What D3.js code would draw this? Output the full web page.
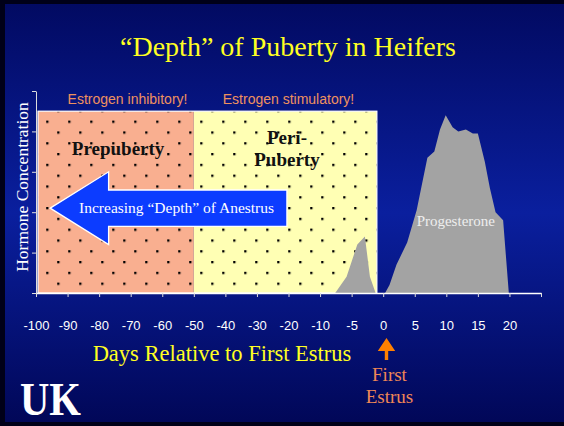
<!DOCTYPE html>
<html>
<head>
<meta charset="utf-8">
<script src="https://cdn.jsdelivr.net/npm/d3@7"></script>
<style>
  body { margin: 0; background: #000; }
  svg { display: block; }
</style>
</head>
<body>
<div id="chart"></div>
<script>
// tick positions on the day axis (evenly spaced, not linear in days)
const dayTicks = [-100, -90, -80, -70, -60, -50, -40, -30, -20, -10, -5, 0, 5, 10, 15, 20, 25]
const hormoneTicks = [0, 20, 40, 60, 80, 100]

// phases of puberty
const phaseNames = ['Prepuberty', 'Peri-|Puberty']
const phaseStart = [-100, -50]
const phaseEnd = [-50, -1]
const phaseTop = 90
const phaseLabelDay = [-74, -20.5]
const estrogenLabels = ['Estrogen inhibitory!', 'Estrogen stimulatory!']
const estrogenLabelDay = [-71, -20]

// estrus (estrogen) peak before first estrus
const peakDays = [-7.6, -5.8, -4.1, -2.9, -2.1, -1.2]
const peakValues = [0, 8, 24, 28, 8, 0]

// progesterone after first estrus
const progDays = [0.3, 1, 2.1, 3.8, 5.3, 7, 8.1, 9, 9.9, 11, 11.9, 13.1, 14.2, 15, 16.1, 16.9, 17.8, 19, 19.9]
const progValues = [0, 4, 14, 25, 41, 67, 70, 81, 88, 82, 80, 81, 79, 79, 65, 52, 40, 36, 0]

// arrow "Increasing depth of anestrus" (days / hormone units)
const arrowDays = [-95.5, -77, -20.5]        // tip, head base, tail
const arrowLevels = [42, 51, 33, 60, 24]      // center, shaft top, shaft bottom, head top, head bottom

let width = 564
let height = 426

let svg = d3.select('#chart')
  .append('svg')
  .attr('width', width)
  .attr('height', height)

let defs = svg.append('defs')
let grad = defs.append('linearGradient')
  .attr('id', 'bg')
  .attr('x1', 0).attr('y1', 0).attr('x2', 0).attr('y2', 1)
grad.append('stop').attr('offset', '0%').attr('stop-color', '#020a62')
grad.append('stop').attr('offset', '50%').attr('stop-color', '#0a1f9e')
grad.append('stop').attr('offset', '100%').attr('stop-color', '#010758')

let pat = defs.append('pattern')
  .attr('id', 'dots')
  .attr('patternUnits', 'userSpaceOnUse')
  .attr('x', 46.2).attr('y', 120.6)
  .attr('width', 22).attr('height', 21.6)
pat.append('rect').attr('x', 0).attr('y', 0).attr('width', 2.3).attr('height', 2.3).attr('fill', '#000')
pat.append('rect').attr('x', 11).attr('y', 10.8).attr('width', 2.3).attr('height', 2.3).attr('fill', '#000')

// slide background
svg.append('rect').attr('width', width).attr('height', height).attr('fill', '#000018')
svg.append('rect')
  .attr('x', 5).attr('y', 4)
  .attr('width', width - 5).attr('height', 418)
  .attr('fill', 'url(#bg)')

// scales
let xTick = d3.scalePoint().domain(dayTicks).range([36, 541])
let x = d3.scaleLinear().domain(dayTicks).range(dayTicks.map(d => xTick(d)))
let y = d3.scaleLinear().domain([0, 100]).range([293, 91])

// phase rectangles
let phaseFill = ['#f9af90', '#ffffb4']
let phases = svg.append('g')
phaseNames.forEach((name, i) => {
  let x0 = x(phaseStart[i]) + (i === 0 ? 2 : 0)
  let x1 = x(phaseEnd[i])
  phases.append('rect')
    .attr('x', x0).attr('y', y(phaseTop))
    .attr('width', x1 - x0).attr('height', y(0) - y(phaseTop))
    .attr('fill', phaseFill[i])
  phases.append('rect')
    .attr('x', x0).attr('y', y(phaseTop))
    .attr('width', x1 - x0).attr('height', y(0) - y(phaseTop))
    .attr('fill', 'url(#dots)')
})
// white frame around both
phases.append('rect')
  .attr('x', x(phaseStart[0]) + 2).attr('y', y(phaseTop))
  .attr('width', x(phaseEnd[1]) - x(phaseStart[0]) - 2)
  .attr('height', y(0) - y(phaseTop))
  .attr('fill', 'none')
  .attr('stroke', '#fff')
  .attr('stroke-width', 1.2)

// hormone curves
let area = d3.area()
  .x(d => x(d[0]))
  .y0(y(0))
  .y1(d => y(d[1]))

svg.append('path')
  .datum(d3.zip(peakDays, peakValues))
  .attr('d', area)
  .attr('fill', '#a3a3a3')

svg.append('path')
  .datum(d3.zip(progDays, progValues))
  .attr('d', area)
  .attr('fill', '#a3a3a3')

// phase labels
phaseNames.forEach((name, i) => {
  let lines = name.split('|')
  let t = svg.append('text')
    .attr('x', x(phaseLabelDay[i]))
    .attr('y', i === 0 ? 155 : 144)
    .attr('text-anchor', 'middle')
    .style('font-family', 'Liberation Serif, serif')
    .style('font-weight', 'bold')
    .style('font-size', '19px')
    .attr('fill', '#111')
  lines.forEach((l, j) => {
    t.append('tspan').attr('x', x(phaseLabelDay[i])).attr('dy', j === 0 ? 0 : 22).text(l)
  })
})

estrogenLabels.forEach((label, i) => {
  svg.append('text')
    .attr('x', x(estrogenLabelDay[i]))
    .attr('y', 104)
    .attr('text-anchor', 'middle')
    .style('font-family', 'Liberation Sans, Arial, sans-serif')
    .style('font-size', '14px')
    .attr('fill', '#ee915f')
    .text(label)
})

// big blue arrow
let ax = arrowDays.map(d => x(d))
let ay = arrowLevels.map(d => y(d))
let arrowPts = [
  [ax[0], ay[0]], [ax[1], ay[3]], [ax[1], ay[1]], [ax[2], ay[1]],
  [ax[2], ay[2]], [ax[1], ay[2]], [ax[1], ay[4]]
]
svg.append('path')
  .attr('d', d3.line()(arrowPts) + 'Z')
  .attr('fill', '#0c3cff')
  .attr('stroke', '#fff')
  .attr('stroke-width', 1.3)

svg.append('text')
  .attr('x', (ax[0] + ax[2]) / 2 + 8)
  .attr('y', ay[0] + 5)
  .attr('text-anchor', 'middle')
  .style('font-family', 'Liberation Serif, serif')
  .style('font-size', '15.5px')
  .attr('fill', '#fff')
  .text('Increasing \u201cDepth\u201d of Anestrus')

svg.append('text')
  .attr('x', x(11.5))
  .attr('y', 226)
  .attr('text-anchor', 'middle')
  .style('font-family', 'Liberation Serif, serif')
  .style('font-size', '15px')
  .attr('fill', '#eee')
  .text('Progesterone')

// axes
let xAxis = d3.axisBottom(xTick)
  .tickSize(4)
  .tickSizeOuter(0)
  .tickPadding(24)
  .tickFormat(d => d === 25 ? '' : d)

let xg = svg.append('g')
  .attr('transform', 'translate(0,' + y(0) + ')')
  .call(xAxis)
xg.select('.domain').attr('stroke', '#fff').attr('stroke-width', 1.3)
xg.selectAll('.tick line').attr('stroke', '#ddd')
xg.selectAll('.tick text')
  .attr('fill', '#fff')
  .style('font-family', 'Liberation Sans, Arial, sans-serif')
  .style('font-size', '13px')

let yAxis = d3.axisLeft(y)
  .tickValues(hormoneTicks)
  .tickSize(4)
  .tickSizeOuter(0)
  .tickFormat('')

let yg = svg.append('g')
  .attr('transform', 'translate(' + xTick(-100) + ',0)')
  .call(yAxis)
yg.select('.domain').attr('stroke', '#ddd')
yg.selectAll('.tick line').attr('stroke', '#ddd')

// titles
svg.append('text')
  .attr('x', 288)
  .attr('y', 56)
  .attr('text-anchor', 'middle')
  .style('font-family', 'Liberation Serif, serif')
  .style('font-size', '28px')
  .attr('fill', '#ffff22')
  .text('\u201cDepth\u201d of Puberty in Heifers')

svg.append('text')
  .attr('x', 222)
  .attr('y', 361)
  .attr('text-anchor', 'middle')
  .style('font-family', 'Liberation Serif, serif')
  .style('font-size', '22.5px')
  .attr('fill', '#ffff22')
  .text('Days Relative to First Estrus')

svg.append('text')
  .attr('transform', 'translate(28,187) rotate(-90)')
  .attr('text-anchor', 'middle')
  .style('font-family', 'Liberation Serif, serif')
  .style('font-size', '17.5px')
  .attr('fill', '#fff')
  .text('Hormone Concentration')

// first estrus marker
let ex = x(0) + 3.3
svg.append('path')
  .attr('d', d3.line()([[ex, 338], [ex + 8.7, 351], [ex + 1.7, 351], [ex + 1.7, 360],
    [ex - 1.7, 360], [ex - 1.7, 351], [ex - 8.7, 351]]) + 'Z')
  .attr('fill', '#ff8000')

let fe = svg.append('text')
  .attr('text-anchor', 'middle')
  .style('font-family', 'Liberation Serif, serif')
  .style('font-size', '19px')
  .attr('fill', '#ee8656')
fe.append('tspan').attr('x', ex + 3).attr('y', 381).text('First')
fe.append('tspan').attr('x', ex + 3).attr('y', 403).text('Estrus')

// UK logo
svg.append('text')
  .attr('x', 20)
  .attr('y', 415)
  .attr('textLength', 61)
  .attr('lengthAdjust', 'spacingAndGlyphs')
  .style('font-family', 'Liberation Serif, serif')
  .style('font-weight', 'bold')
  .style('font-size', '46px')
  .attr('fill', '#fff')
  .text('UK')
</script>
</body>
</html>
